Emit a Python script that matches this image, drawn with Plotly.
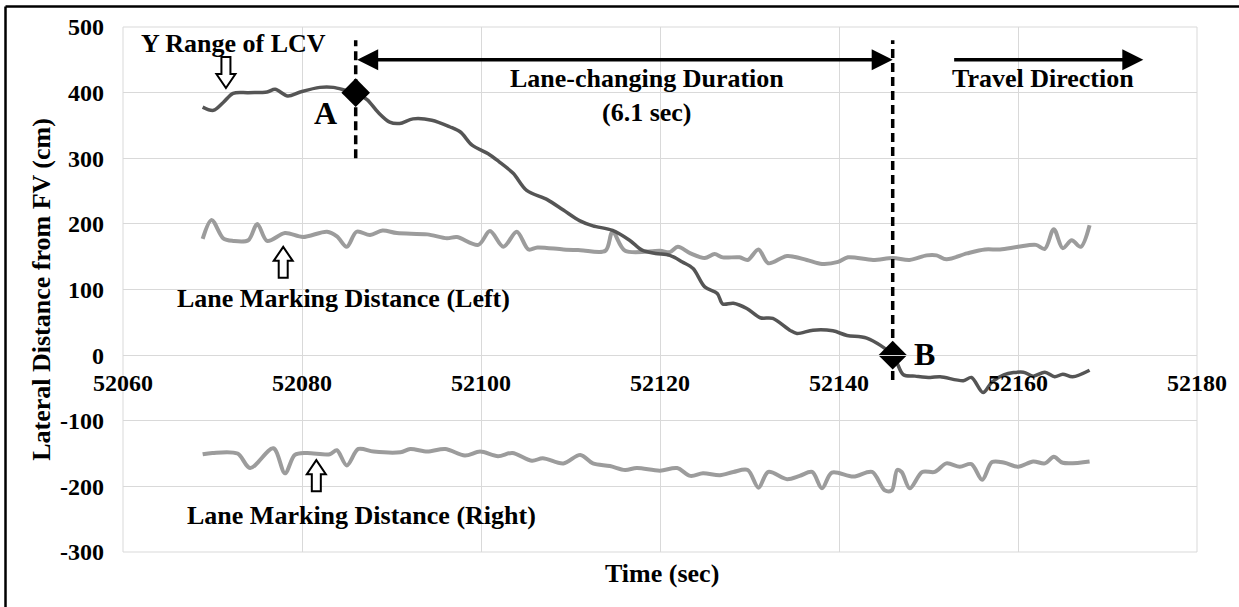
import plotly.graph_objects as go

# Lateral position of the lane-changing vehicle (LCV) relative to the following vehicle
lcv_t = [52068.9, 52070.1, 52071.2, 52072.3, 52074.0, 52076.1, 52077.0, 52078.4, 52079.8, 52082.0,
         52083.5, 52085.0, 52086.0, 52087.3, 52088.5, 52089.8, 52090.9, 52092.4, 52094.5, 52096.5,
         52097.7, 52099.0, 52100.8, 52102.0, 52103.6, 52105.1, 52107.4, 52109.2, 52111.0, 52112.5,
         52114.7, 52116.6, 52118.0, 52119.5, 52121.1, 52122.5, 52123.7, 52125.0, 52126.4, 52127.0,
         52128.2, 52129.7, 52131.2, 52132.6, 52134.5, 52135.3, 52137.1, 52139.3, 52140.9, 52143.1,
         52146.0, 52147.2, 52148.5, 52150.2, 52151.3, 52153.9, 52154.8, 52156.1, 52157.1, 52158.4,
         52160.6, 52161.7, 52163.0, 52164.1, 52165.0, 52166.1, 52168.0]
lcv_y = [378, 373, 385, 399, 400, 401, 405, 395, 401, 408,
         408, 403, 400, 389, 370, 355, 353, 360, 358, 348,
         340, 320, 307, 295, 277, 251, 237, 221, 205, 197,
         190, 175, 160, 155, 152, 142, 132, 104, 94, 78,
         79, 71, 57, 56, 38, 33, 38, 37, 30, 26,
         0, -30, -32, -34, -33, -39, -34, -57, -41, -30,
         -26, -32, -26, -33, -29, -33, -23]

# Lane marking distance, left side
left_t = [52068.9, 52069.9, 52071.2, 52072.3, 52074.0, 52075.0, 52076.1, 52078.1, 52080.1, 52082.8,
          52083.9, 52085.0, 52086.1, 52087.6, 52089.0, 52090.6, 52094.0, 52096.2, 52097.3, 52099.7,
          52101.0, 52102.5, 52104.0, 52105.3, 52106.3, 52109.2, 52111.1, 52113.9, 52114.7, 52116.1,
          52120.0, 52121.1, 52122.0, 52123.4, 52125.0, 52126.1, 52127.0, 52128.9, 52129.8, 52131.0,
          52132.1, 52134.2, 52136.4, 52138.1, 52139.9, 52141.0, 52143.8, 52146.0, 52147.9, 52149.8,
          52150.9, 52152.0, 52154.3, 52156.3, 52158.0, 52160.0, 52162.0, 52163.0, 52164.0, 52165.0,
          52166.0, 52167.0, 52168.0]
left_y = [177, 206, 178, 174, 175, 200, 174, 186, 180, 188,
          181, 165, 188, 183, 190, 186, 184, 178, 180, 168,
          189, 165, 188, 161, 164, 161, 160, 159, 188, 159,
          159, 157, 165, 155, 148, 154, 149, 149, 145, 161,
          140, 151, 145, 139, 142, 149, 145, 148, 145, 152,
          152, 146, 155, 161, 161, 165, 168, 162, 192, 163,
          175, 165, 198]

# Lane marking distance, right side
right_t = [52068.9, 52070.0, 52072.8, 52074.2, 52076.8, 52078.1, 52079.2, 52080.5, 52083.1, 52083.9,
           52085.0, 52086.3, 52088.0, 52091.0, 52092.1, 52094.0, 52096.0, 52098.2, 52099.9, 52101.9,
           52103.5, 52105.7, 52106.9, 52109.2, 52111.1, 52112.5, 52114.4, 52116.1, 52117.4, 52120.0,
           52121.9, 52123.4, 52124.8, 52126.7, 52128.2, 52129.8, 52131.0, 52132.1, 52134.2, 52135.6,
           52137.0, 52138.1, 52139.2, 52141.6, 52143.7, 52145.1, 52145.9, 52146.5, 52147.0, 52147.9,
           52149.3, 52150.7, 52152.0, 52153.5, 52154.8, 52156.0, 52157.1, 52158.5, 52160.0, 52161.7,
           52163.0, 52164.0, 52165.0, 52168.0]
right_y = [-151, -149, -150, -172, -142, -180, -152, -149, -151, -145,
           -168, -143, -147, -148, -143, -147, -143, -153, -147, -154,
           -149, -161, -157, -165, -152, -165, -169, -175, -172, -176,
           -172, -184, -180, -183, -178, -175, -202, -178, -189, -184,
           -178, -203, -179, -185, -178, -206, -206, -175, -178, -203,
           -178, -178, -165, -170, -166, -190, -163, -164, -170, -162,
           -165, -155, -164, -162]

# Start (A) and end (B) of the lane change
event_t = [52086, 52146]
event_y = [400, 0]
event_labels = ["A", "B"]
duration_label = "(6.1 sec)"

x_ticks = [52060, 52080, 52100, 52120, 52140, 52160, 52180]
y_ticks = [-300, -200, -100, 0, 100, 200, 300, 400, 500]

FONT = "Liberation Serif, Times New Roman, serif"
GRID = "#d9d9d9"

fig = go.Figure()
fig.add_trace(go.Scatter(x=left_t, y=left_y, mode="lines",
                         line=dict(color="#9c9c9c", width=4, shape="spline", smoothing=0.9),
                         hoverinfo="skip"))
fig.add_trace(go.Scatter(x=right_t, y=right_y, mode="lines",
                         line=dict(color="#9c9c9c", width=4, shape="spline", smoothing=0.9),
                         hoverinfo="skip"))
fig.add_trace(go.Scatter(x=lcv_t, y=lcv_y, mode="lines",
                         line=dict(color="#555555", width=3.5, shape="spline", smoothing=0.9),
                         hoverinfo="skip"))

# dashed boundaries of the lane change
for t, y0 in zip(event_t, [300, -38]):
    fig.add_shape(type="line", xref="x", yref="y", x0=t, x1=t, y0=y0, y1=480,
                  line=dict(color="black", width=3.5, dash="9px,5px"))

fig.add_trace(go.Scatter(x=event_t, y=event_y, mode="markers",
                         marker=dict(symbol="diamond", size=22, color="black"),
                         hoverinfo="skip"))

# duration arrow and travel direction arrow
fig.add_annotation(x=event_t[1], y=450, ax=event_t[0], ay=450, axref="x", ayref="y",
                   xref="x", yref="y", text="", showarrow=True, arrowside="end+start",
                   arrowhead=2, arrowsize=1.2, arrowwidth=3.5, arrowcolor="black",
                   standoff=0, startstandoff=0)
fig.add_annotation(x=52174, y=450, ax=52152.7, ay=450, axref="x", ayref="y",
                   xref="x", yref="y", text="", showarrow=True, arrowside="end",
                   arrowhead=2, arrowsize=1.2, arrowwidth=3.5, arrowcolor="black",
                   standoff=0)


def hollow_arrow(t, y, up=True):
    """Outlined block arrow, tip at (t, y), drawn in pixel units."""
    s = 1 if up else -1
    pts = [(0, 0), (9.5, -14), (4.5, -14), (4.5, -31), (-4.5, -31), (-4.5, -14), (-9.5, -14)]
    path = "M " + " L ".join(f"{px},{s * py}" for px, py in pts) + " Z"
    fig.add_shape(type="path", path=path, xref="x", yref="y",
                  xsizemode="pixel", ysizemode="pixel", xanchor=t, yanchor=y,
                  line=dict(color="black", width=2), fillcolor="white")


hollow_arrow(52071.5, 407, up=False)
hollow_arrow(52077.9, 165, up=True)
hollow_arrow(52081.6, -160, up=True)

txt = dict(family=FONT, size=26, color="black", weight="bold")
labels = [
    ("Y Range of LCV", 52072.3, 475),
    ("Lane-changing Duration", 52118.5, 421),
    (duration_label, 52118.5, 370),
    ("Travel Direction", 52162.8, 421),
    ("Lane Marking Distance (Left)", 52084.6, 87),
    ("Lane Marking Distance (Right)", 52086.7, -244),
]
for text, t, y in labels:
    fig.add_annotation(x=t, y=y, xref="x", yref="y", text=text, showarrow=False,
                       font=txt, xanchor="center", yanchor="middle")

big = dict(family=FONT, size=32, color="black", weight="bold")
fig.add_annotation(x=52082.6, y=369, text=event_labels[0], showarrow=False, font=big)
fig.add_annotation(x=52149.6, y=2, text=event_labels[1], showarrow=False, font=big)

fig.add_annotation(x=0.502, y=-0.04, xref="paper", yref="paper", text="Time (sec)",
                   showarrow=False, font=txt, xanchor="center", yanchor="middle")

# plot-area frame and outer figure frame
fig.add_shape(type="rect", xref="x domain", yref="y domain", x0=0, x1=1, y0=0, y1=1,
              line=dict(color=GRID, width=1), layer="below")
fig.add_shape(type="line", xref="paper", yref="paper", x0=-0.1094, x1=1.2, y0=1.039, y1=1.039,
              line=dict(color="black", width=2.5))
fig.add_shape(type="line", xref="paper", yref="paper", x0=-0.1094, x1=-0.1094, y0=1.039, y1=-0.3,
              line=dict(color="black", width=2.5))

tickfont = dict(family=FONT, size=24, color="black", weight="bold")
fig.update_layout(
    width=1239, height=607,
    margin=dict(l=123, r=42, t=27, b=55),
    paper_bgcolor="white", plot_bgcolor="white",
    showlegend=False,
    font=dict(family=FONT, size=24, color="black", weight="bold"),
    xaxis=dict(range=[52060, 52180], tickvals=x_ticks, ticktext=[str(v) for v in x_ticks],
               showgrid=True, gridcolor=GRID, gridwidth=1, anchor="free", position=0.375,
               showline=True, linecolor=GRID, zeroline=False, ticks="",
               ticklabelstandoff=6, tickfont=tickfont),
    yaxis=dict(range=[-300, 500], tickvals=y_ticks, ticktext=[str(v) for v in y_ticks],
               showgrid=True, gridcolor=GRID, gridwidth=1, zeroline=True,
               zerolinecolor=GRID, zerolinewidth=1, ticks="", ticklabelstandoff=18,
               tickfont=tickfont,
               title=dict(text="Lateral Distance from FV (cm)", standoff=1,
                          font=dict(family=FONT, size=26, color="black", weight="bold"))),
)

fig.write_html("out.html")
